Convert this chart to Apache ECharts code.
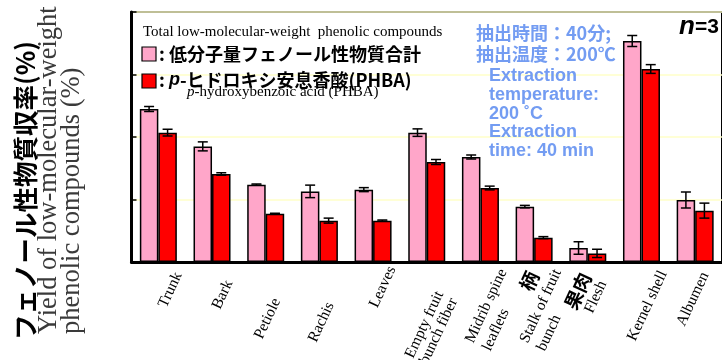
<!DOCTYPE html>
<html><head><meta charset="utf-8">
<script src="https://cdn.jsdelivr.net/npm/echarts@6/dist/echarts.min.js"></script>
<style>html,body{margin:0;padding:0;background:#fff}#c{width:722px;height:360px}</style>
</head><body><div id="c"></div>
<script>
const categories = ['Trunk','Bark','Petiole','Rachis','Leaves','Empty fruit bunch fiber','Midrib spine leaflets','Stalk of fruit bunch','Flesh','Kernel shell','Albumen'];
const totalPhenolic = [12.24, 9.25, 6.19, 5.65, 5.79, 10.35, 8.40, 4.43, 1.12, 17.68, 4.96];
const totalErr      = [0.20, 0.36, 0.05, 0.50, 0.16, 0.30, 0.16, 0.10, 0.50, 0.44, 0.64];
const phba          = [10.35, 7.04, 3.87, 3.31, 3.31, 8.00, 5.92, 1.95, 0.69, 15.44, 4.11];
const phbaErr       = [0.27, 0.10, 0.03, 0.20, 0.05, 0.20, 0.15, 0.08, 0.33, 0.35, 0.60];
const yTicks = [0, 5, 10, 15, 20];
const xTickLabels = [['Trunk'],['Bark'],['Petiole'],['Rachis'],['Leaves'],['Empty fruit','bunch fiber'],['Midrib spine','leaflets'],['柄','Stalk of fruit','bunch'],['果肉','Flesh'],['Kernel shell'],['Albumen']];
const legendJa = ['低分子量フェノール性物質合計', 'ヒドロキシ安息香酸(PHBA)'];
const legendEn = ['Total low-molecular-weight  phenolic compounds', 'p-hydroxybenzoic acid (PHBA)'];

// layout for each label line: [align, dx, dy, cjk]
const xLabelLayout = [
  [['right',20,11]],
  [['right',17,19]],
  [['right',11,37]],
  [['right',11,41]],
  [['right',19,5]],
  [['right',13,30],['right',27,37]],
  [['left',-11,80],['left',6,88]],
  [['center',-5,19,1],['left',-10,80],['left',7,88]],
  [['center',-10,29,1],['center',8,35]],
  [['left',-10,78]],
  [['right',10,11]]
];

const PINK = '#ffa6c9', RED = '#ff0000', BLUE = '#739cf2';
const BW = 18.5;
const chart = echarts.init(document.getElementById('c'));

function errItem(offset){
  return function(params, api){
    const i = api.value(0), v = api.value(1), e = api.value(2);
    const c = api.coord([i, v]);
    const hi = api.coord([i, v + e])[1], lo = api.coord([i, v - e])[1];
    const x = c[0] + offset, w = 5;
    const st = {stroke:'#000', lineWidth:1.5};
    return {type:'group', children:[
      {type:'line', shape:{x1:x,y1:hi,x2:x,y2:lo}, style:st},
      {type:'line', shape:{x1:x-w,y1:hi,x2:x+w,y2:hi}, style:st},
      {type:'line', shape:{x1:x-w,y1:lo,x2:x+w,y2:lo}, style:st}
    ]};
  };
}

const serif = '"Liberation Serif","Times New Roman",serif';
const sans = '"Liberation Sans",Arial,sans-serif';
const cjk = '"Noto Sans CJK JP",sans-serif';

const staticGraphics = [
  // y-axis titles
  {type:'text', z:100, x:25, y:340, rotation:Math.PI/2, style:{text:'フェノール性物質収率(%)', font:'bold 25.5px '+cjk, fill:'#000', textAlign:'left', textVerticalAlign:'middle'}},
  {type:'text', z:100, x:49, y:334, rotation:Math.PI/2, style:{text:'Yield of low-molecular-weight', font:'26.5px '+serif, fill:'#3a3a3a', textAlign:'left', textVerticalAlign:'middle'}},
  {type:'text', z:100, x:72, y:334, rotation:Math.PI/2, style:{text:'phenolic compounds (%)', font:'26.5px '+serif, fill:'#3a3a3a', textAlign:'left', textVerticalAlign:'middle'}},
  // legend
  {type:'text', z:100, x:143, y:32, style:{text:legendEn[0], font:'15px '+serif, fill:'#000', textVerticalAlign:'middle'}},
  {type:'rect', z:100, shape:{x:142, y:47, width:14, height:14}, style:{fill:PINK, stroke:'#000', lineWidth:1.2}},
  {type:'text', z:100, x:159, y:54, style:{text:'{b|: '+legendJa[0]+'}', textVerticalAlign:'middle', rich:{b:{font:'bold 18px '+cjk, fill:'#000'}}}},
  {type:'rect', z:100, shape:{x:142, y:74, width:14, height:14}, style:{fill:RED, stroke:'#000', lineWidth:1.2}},
  {type:'text', z:100, x:159, y:80, style:{text:'{b|: }{i|p}{b|-'+legendJa[1]+'}', textVerticalAlign:'middle', rich:{b:{font:'bold 18px '+cjk, fill:'#000'}, i:{font:'italic bold 18px '+sans, fill:'#000'}}}},
  {type:'text', z:100, x:187, y:92, style:{text:'{i|p}{r|-hydroxybenzoic acid (PHBA)}', textVerticalAlign:'middle', rich:{i:{font:'italic 15px '+serif, fill:'#000'}, r:{font:'15px '+serif, fill:'#000'}}}},
  // extraction conditions
  {type:'text', z:100, x:476, y:33, style:{text:'抽出時間：40分;', font:'bold 18px '+cjk, fill:BLUE, textVerticalAlign:'middle'}},
  {type:'text', z:100, x:476, y:54, style:{text:'抽出温度：200℃', font:'bold 18px '+cjk, fill:BLUE, textVerticalAlign:'middle'}},
  {type:'text', z:100, x:489, y:67, style:{text:'Extraction\ntemperature:\n200 ˚C\nExtraction\ntime: 40 min', font:'bold 18px '+sans, fill:BLUE, lineHeight:18.7, textVerticalAlign:'top'}},
  {type:'text', z:100, x:679, y:27, style:{text:'{i|n}{b|=3}', textVerticalAlign:'middle', rich:{i:{font:'italic bold 26px '+sans, fill:'#000'}, b:{font:'bold 21px '+sans, fill:'#000'}}}}
];

const option = {
  animation:false,
  backgroundColor:'#fff',
  grid:{left:131.5, top:12, width:596, height:250, show:true, borderColor:'#000', borderWidth:2, backgroundColor:'transparent'},
  xAxis:{type:'category', data:categories,
    axisLine:{lineStyle:{color:'#000', width:3}},
    axisTick:{inside:true, length:5, lineStyle:{color:'#000', width:1.5}},
    axisLabel:{show:false}, splitLine:{show:false}},
  yAxis:{type:'value', min:yTicks[0], max:yTicks[yTicks.length-1], interval:yTicks[1]-yTicks[0],
    axisLine:{show:true, lineStyle:{color:'#000', width:3}},
    axisTick:{show:true, inside:true, length:5, lineStyle:{color:'#000', width:1.5}},
    axisLabel:{show:false},
    splitLine:{show:true, lineStyle:{color:'#ffffc8', width:1.5}}},
  series:[
    {name:'total', type:'bar', data:totalPhenolic, barWidth:BW, barGap:'0%', itemStyle:{color:PINK, borderColor:'#000', borderWidth:1.5}, z:2},
    {name:'phba', type:'bar', data:phba, barWidth:BW, barGap:'0%', itemStyle:{color:RED, borderColor:'#000', borderWidth:1.5}, z:2},
    {type:'custom', renderItem:errItem(-BW/2), data:categories.map((c,i)=>[i,totalPhenolic[i],totalErr[i]]), encode:{x:0,y:1}, z:5},
    {type:'custom', renderItem:errItem(BW/2), data:categories.map((c,i)=>[i,phba[i],phbaErr[i]]), encode:{x:0,y:1}, z:5}
  ],
  graphic:staticGraphics
};
chart.setOption(option);

// axis labels positioned from the category axis scale
const ROT = 65 * Math.PI / 180;
const labelGraphics = [];
xTickLabels.forEach((lines, i) => {
  const p = chart.convertToPixel({gridIndex:0}, [i, 0]);
  lines.forEach((t, j) => {
    const L = xLabelLayout[i][j];
    labelGraphics.push({type:'text', z:100, x:p[0]+L[1], y:p[1]+L[2], rotation:ROT,
      style:{text:t, font: L[3] ? 'bold 19px '+cjk : '15.5px '+serif, fill:'#000', textAlign:L[0], textVerticalAlign:'middle'}});
  });
});
chart.setOption({graphic: staticGraphics.concat(labelGraphics)});
</script></body></html>
